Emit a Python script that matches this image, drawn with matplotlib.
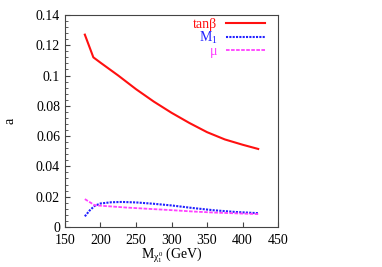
import matplotlib
matplotlib.use("Agg")
import matplotlib.pyplot as plt
from matplotlib.ticker import MultipleLocator

plt.rcParams['font.family'] = ['Liberation Serif', 'DejaVu Serif']
plt.rcParams['mathtext.fontset'] = 'custom'
plt.rcParams['mathtext.rm'] = 'Liberation Serif'
plt.rcParams['mathtext.it'] = 'Liberation Serif'

# neutralino mass (GeV)
m_tanb = [178, 190, 200, 225, 250, 275, 300, 325, 350, 375, 400, 422]
a_tanb = [0.127, 0.112, 0.1085, 0.1000, 0.0910, 0.0828, 0.0754, 0.0687, 0.0626, 0.0578, 0.0543, 0.0515]

m_M1 = [178, 185, 192, 200, 215, 230, 250, 275, 300, 330, 360, 390, 422]
a_M1 = [0.0070, 0.0110, 0.0140, 0.0155, 0.0163, 0.0165, 0.0162, 0.0153, 0.0142, 0.0125, 0.0110, 0.0099, 0.0091]

m_mu = [178, 192, 210, 237, 270, 300, 330, 360, 390, 422]
a_mu = [0.0184, 0.0143, 0.0137, 0.0128, 0.0119, 0.0111, 0.0102, 0.0095, 0.0090, 0.0085]

fig = plt.figure(figsize=(3.82, 2.67), dpi=100)
ax = fig.add_axes([0.170, 0.150, 0.558, 0.794])

ax.plot(m_tanb, a_tanb, color='#ff1010', lw=1.5, label='tanβ')
ax.plot(m_M1, a_M1, color='#2020ff', lw=1.5, ls=(0, (1, 0.6)), label=r'M$_1$')
ax.plot(m_mu, a_mu, color='#ff40ff', lw=1.3, ls=(0, (2, 0.8)), label='μ')

ax.set_xlim(150, 450)
ax.set_ylim(0, 0.14)
ax.xaxis.set_major_locator(MultipleLocator(50))
ax.yaxis.set_major_locator(MultipleLocator(0.02))
ax.yaxis.set_minor_locator(MultipleLocator(0.004))
ax.yaxis.set_major_formatter(plt.FuncFormatter(lambda v, p: '0' if v == 0 else ('%g' % v)))

ax.tick_params(direction='in', which='both', labelsize=10, color='#444444')
ax.tick_params(which='major', length=3.5)
ax.tick_params(which='minor', length=2)
ax.tick_params(axis='x', pad=5)
for s in ax.spines.values():
    s.set_color('#444444')
    s.set_linewidth(0.8)

ax.set_xlabel(r'M$_{\chi_1^0}$ (GeV)', fontsize=10, labelpad=-1)
ax.set_ylabel('a', fontsize=10, labelpad=14)

leg = ax.legend(loc='upper right', frameon=False, markerfirst=False, fontsize=10,
                labelcolor='linecolor', handlelength=2.8, handletextpad=0.6,
                labelspacing=-0.08, borderaxespad=0.0, borderpad=0.2,
                bbox_to_anchor=(0.95, 1.0))

fig.savefig('out.png', dpi=100)
